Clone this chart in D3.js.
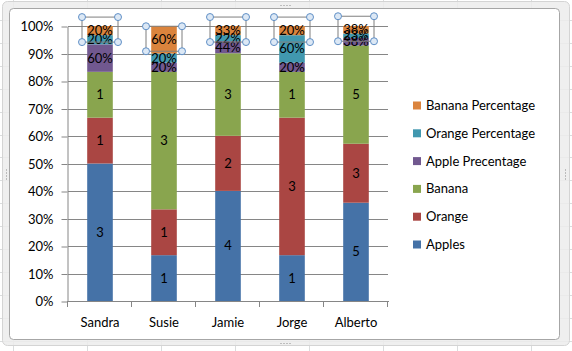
<!DOCTYPE html>
<html lang="en">
<head>
<meta charset="utf-8">
<script src="https://cdn.jsdelivr.net/npm/d3@7/dist/d3.min.js"></script>
<style>
    body { margin: 0; background: #fff; }
    svg text { font-family: Lato, "Open Sans", sans-serif; }
</style>
</head>
<body>
<script>
// data
const names = ["Sandra", "Susie", "Jamie", "Jorge", "Alberto"];
const apples = [3, 1, 4, 1, 5];
const orange = [1, 1, 2, 3, 3];
const banana = [1, 3, 3, 1, 5];
const applePct = [0.60, 0.20, 0.44, 0.20, 0.38];
const orangePct = [0.20, 0.20, 0.22, 0.60, 0.23];
const bananaPct = [0.20, 0.60, 0.33, 0.20, 0.38];
const seriesNames = ["Apples", "Orange", "Banana", "Apple Precentage", "Orange Percentage", "Banana Percentage"];
const colors = ["#4572A7", "#AA4643", "#89A54E", "#71588F", "#4198AF", "#DB843D"];
const yTicks = [0, 0.1, 0.2, 0.3, 0.4, 0.5, 0.6, 0.7, 0.8, 0.9, 1];

const W = 572, H = 351;
const plotLeft = 68, plotRight = 388, plotTop = 26, plotBottom = 301;

const svg = d3.select("body").append("svg")
    .attr("width", W)
    .attr("height", H);

// spreadsheet behind the chart
const cols = d3.range(12.7, W, 74);
const rows = d3.range(20, H, 22.9);
svg.append("g").selectAll("line").data(cols).enter().append("line")
    .attr("x1", d => Math.round(d) + 0.5).attr("x2", d => Math.round(d) + 0.5)
    .attr("y1", 0).attr("y2", H).attr("stroke", "#dadcdd");
svg.append("g").selectAll("line").data(rows).enter().append("line")
    .attr("y1", d => Math.round(d) + 0.5).attr("y2", d => Math.round(d) + 0.5)
    .attr("x1", 0).attr("x2", W).attr("stroke", "#dadcdd");

// chart frame
svg.append("rect")
    .attr("x", 2.5).attr("y", 1.5).attr("width", 567).attr("height", 344)
    .attr("rx", 5)
    .attr("fill", "#ececec").attr("fill-opacity", 0.85).attr("stroke", "#d4d4d4");
svg.append("rect")
    .attr("x", 9.5).attr("y", 8.5).attr("width", 550).attr("height", 331)
    .attr("rx", 4)
    .attr("fill", "#fff").attr("stroke", "#a6a6a6");
// little grip dots on the frame edges
[[285, 5, true], [6, 174, false], [565, 174, false], [285, 343, true]].forEach(p => {
    for (let i = -1.5; i <= 1.5; i++) {
        svg.append("rect")
            .attr("x", p[2] ? p[0] + i * 3 : p[0])
            .attr("y", p[2] ? p[1] : p[1] + i * 3)
            .attr("width", 1).attr("height", 1).attr("fill", "#8a8a8a");
    }
});

// stacked (100%) layout
const rowsData = names.map((n, i) => ({
    name: n,
    "Apples": apples[i], "Orange": orange[i], "Banana": banana[i],
    "Apple Precentage": applePct[i], "Orange Percentage": orangePct[i], "Banana Percentage": bananaPct[i]
}));
const stacked = d3.stack().keys(seriesNames).offset(d3.stackOffsetExpand)(rowsData);

const x = d3.scaleBand().domain(names).range([plotLeft, plotRight]).paddingInner(0.6).paddingOuter(0.3);
const y = d3.scaleLinear().domain([0, 1]).range([plotBottom, plotTop]);
const color = d3.scaleOrdinal().domain(seriesNames).range(colors);

// gridlines
svg.append("g").selectAll("line").data(yTicks.slice(1)).enter().append("line")
    .attr("x1", plotLeft).attr("x2", plotRight)
    .attr("y1", d => Math.round(y(d)) + 0.5).attr("y2", d => Math.round(y(d)) + 0.5)
    .attr("stroke", "#868686");

// y axis
const yAxis = d3.axisLeft(y)
    .tickValues(yTicks)
    .tickFormat(d3.format(".0%"))
    .tickSize(6)
    .tickSizeOuter(0)
    .tickPadding(8);
const gy = svg.append("g")
    .attr("transform", "translate(" + (plotLeft - 0.5) + ",0.5)")
    .call(yAxis);
gy.selectAll("line, path").attr("stroke", "#868686");
gy.selectAll("text").attr("fill", "#000").style("font-size", "13px");

// bars
const layer = svg.append("g").selectAll("g")
    .data(stacked).enter().append("g")
    .attr("fill", d => color(d.key));
layer.selectAll("rect")
    .data(d => d).enter().append("rect")
    .attr("x", d => x(d.data.name))
    .attr("width", x.bandwidth())
    .attr("y", d => y(d[1]))
    .attr("height", d => y(d[0]) - y(d[1]));

// x axis
svg.append("line")
    .attr("x1", plotLeft).attr("x2", plotRight + 1)
    .attr("y1", plotBottom + 0.5).attr("y2", plotBottom + 0.5)
    .attr("stroke", "#868686");
const step = x.step();
svg.append("g").selectAll("line").data(d3.range(names.length + 1)).enter().append("line")
    .attr("x1", i => Math.round(plotLeft + i * step) - 0.5).attr("x2", i => Math.round(plotLeft + i * step) - 0.5)
    .attr("y1", plotBottom).attr("y2", plotBottom + 6)
    .attr("stroke", "#868686");
svg.append("g").selectAll("text").data(names).enter().append("text")
    .attr("x", d => x(d) + x.bandwidth() / 2)
    .attr("y", 327)
    .attr("text-anchor", "middle")
    .style("font-size", "13px")
    .text(d => d);

// data labels
const pctKeys = ["Apple Precentage", "Orange Percentage", "Banana Percentage"];
stacked.forEach(s => {
    const fmt = pctKeys.includes(s.key) ? d3.format(".0%") : d3.format("d");
    svg.append("g").selectAll("text").data(s).enter().append("text")
        .attr("x", d => x(d.data.name) + x.bandwidth() / 2)
        .attr("y", d => y((d[0] + d[1]) / 2) + 4.5)
        .attr("text-anchor", "middle")
        .style("font-size", "13px")
        .attr("fill", "#000")
        .text(d => fmt(d.data[s.key]));
});

// selection boxes around the Banana Percentage labels
const sel = stacked[stacked.length - 1];
const boxes = svg.append("g").selectAll("g").data(sel).enter().append("g")
    .attr("transform", d => "translate(" + (x(d.data.name) + x.bandwidth() / 2) + "," + (y((d[0] + d[1]) / 2) - 1) + ")");
boxes.append("rect")
    .attr("x", -18).attr("y", -12.5).attr("width", 36).attr("height", 25)
    .attr("fill", "none").attr("stroke", "#7f7f7f");
boxes.selectAll("circle").data([[-18, -12.5], [18, -12.5], [-18, 12.5], [18, 12.5]]).enter().append("circle")
    .attr("cx", d => d[0]).attr("cy", d => d[1]).attr("r", 3.5)
    .attr("fill", "#dce8f5").attr("stroke", "#5f8fc6");

// legend
const legend = svg.append("g").selectAll("g")
    .data(seriesNames.slice().reverse()).enter().append("g")
    .attr("transform", (d, i) => "translate(413," + (105.5 + i * 27.8) + ")");
legend.append("rect")
    .attr("x", 0).attr("y", -4).attr("width", 8).attr("height", 8)
    .attr("fill", d => color(d));
legend.append("text")
    .attr("x", 13).attr("y", 4.5)
    .style("font-size", "13px")
    .text(d => d);
</script>
</body>
</html>
